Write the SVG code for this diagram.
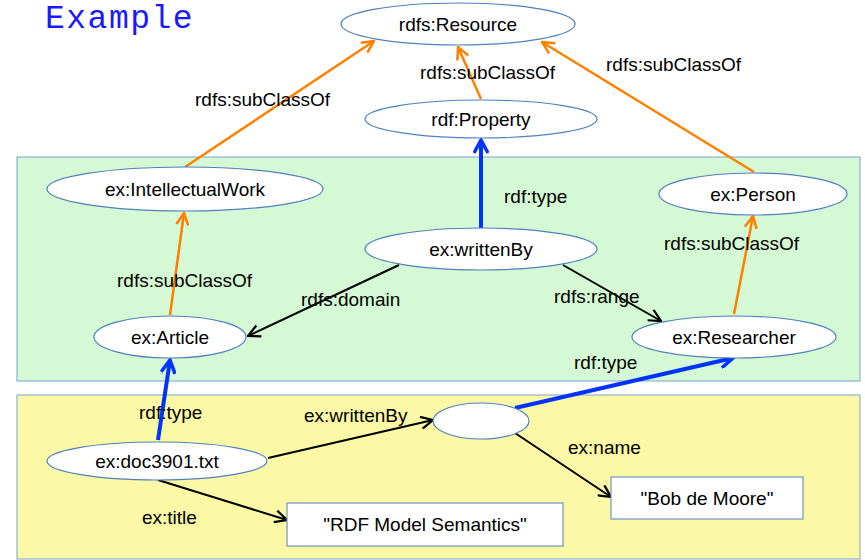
<svg xmlns="http://www.w3.org/2000/svg" width="865" height="560" viewBox="0 0 865 560">
<style>
.node ellipse{fill:#fff;stroke:#4f81bd;stroke-width:1.2}
.node rect{fill:#fff;stroke:#6f94c4;stroke-width:1.2}
text{font-family:"Liberation Sans",Arial,sans-serif;font-size:19px;fill:#000}
.node text{text-anchor:middle}
.or{stroke:#ff7f00;stroke-width:2.5;fill:none}
.bl{stroke:#0033ff;stroke-width:4;fill:none}
.bk{stroke:#000;stroke-width:2;fill:none}
</style>
<defs>
<marker id="ao" viewBox="0 0 14 14" refX="13" refY="7" markerWidth="14" markerHeight="14" markerUnits="userSpaceOnUse" orient="auto"><path d="M1,1 L13,7 L1,13" fill="none" stroke="#ff7f00" stroke-width="2.5"/></marker>
<marker id="ab" viewBox="0 0 16 16" refX="14" refY="8" markerWidth="16" markerHeight="16" markerUnits="userSpaceOnUse" orient="auto"><path d="M1,1 L14,8 L1,15" fill="none" stroke="#0033ff" stroke-width="3.5"/></marker>
<marker id="ak" viewBox="0 0 14 14" refX="13" refY="7" markerWidth="14" markerHeight="14" markerUnits="userSpaceOnUse" orient="auto"><path d="M1,1 L13,7 L1,13" fill="none" stroke="#000" stroke-width="2.2"/></marker>
</defs>
<rect width="865" height="560" fill="#fff"/>
<text x="45" y="28" style="font-family:'Liberation Mono','Courier New',monospace;font-size:33px;letter-spacing:1.5px;fill:#1a1aff">Example</text>
<g id="schema-box"><rect x="17" y="157" width="843" height="224" fill="#d4f9d4" stroke="#7ba3d0" stroke-width="1"/></g>
<g id="data-box"><rect x="17" y="395" width="843" height="164" fill="#fbf8a6" stroke="#7ba3d0" stroke-width="1"/></g>
<g id="connectors">
<line class="or" x1="185" y1="167" x2="374" y2="41" marker-end="url(#ao)"/>
<line class="or" x1="481" y1="99" x2="458" y2="47" marker-end="url(#ao)"/>
<line class="or" x1="754" y1="172" x2="542" y2="42" marker-end="url(#ao)"/>
<line class="bl" x1="481" y1="228" x2="481" y2="140" marker-end="url(#ab)"/>
<line class="or" x1="170" y1="315" x2="184" y2="213" marker-end="url(#ao)"/>
<line class="bk" x1="399" y1="265" x2="248" y2="336" marker-end="url(#ak)"/>
<line class="bk" x1="563" y1="265" x2="661" y2="321" marker-end="url(#ak)"/>
<line class="or" x1="734" y1="314" x2="753" y2="216" marker-end="url(#ao)"/>
<line class="bl" x1="158" y1="440" x2="170" y2="360" marker-end="url(#ab)"/>
<line class="bl" x1="515" y1="408" x2="733" y2="358" marker-end="url(#ab)"/>
<line class="bk" x1="268" y1="458" x2="433" y2="420" marker-end="url(#ak)"/>
<line class="bk" x1="158" y1="480" x2="287" y2="520" marker-end="url(#ak)"/>
<line class="bk" x1="515" y1="433" x2="611" y2="497" marker-end="url(#ak)"/>
<text x="195" y="106">rdfs:subClassOf</text>
<text x="420" y="79">rdfs:subClassOf</text>
<text x="606" y="71">rdfs:subClassOf</text>
<text x="504" y="203">rdf:type</text>
<text x="664" y="250">rdfs:subClassOf</text>
<text x="117" y="287">rdfs:subClassOf</text>
<text x="301" y="306">rdfs:domain</text>
<text x="554" y="303">rdfs:range</text>
<text x="574" y="369">rdf:type</text>
<text x="139" y="419">rdf:type</text>
<text x="304" y="422">ex:writtenBy</text>
<text x="142" y="524">ex:title</text>
<text x="568" y="454">ex:name</text>
</g>
<g id="n-resource" class="node"><ellipse cx="458" cy="24" rx="117" ry="21"/><text x="458" y="31">rdfs:Resource</text></g>
<g id="n-property" class="node"><ellipse cx="481" cy="119" rx="116" ry="19"/><text x="481" y="126">rdf:Property</text></g>
<g id="n-intellectualwork" class="node"><ellipse cx="185" cy="189" rx="138" ry="22"/><text x="185" y="196">ex:IntellectualWork</text></g>
<g id="n-person" class="node"><ellipse cx="753" cy="194" rx="94" ry="21"/><text x="753" y="201">ex:Person</text></g>
<g id="n-writtenby" class="node"><ellipse cx="481" cy="249" rx="116" ry="21"/><text x="481" y="256">ex:writtenBy</text></g>
<g id="n-article" class="node"><ellipse cx="170" cy="337" rx="76" ry="21"/><text x="170" y="344">ex:Article</text></g>
<g id="n-researcher" class="node"><ellipse cx="734" cy="337" rx="102" ry="21"/><text x="734" y="344">ex:Researcher</text></g>
<g id="n-doc" class="node"><ellipse cx="157" cy="461" rx="110" ry="19"/><text x="157" y="468">ex:doc3901.txt</text></g>
<g id="n-blank" class="node"><ellipse cx="481" cy="421" rx="48" ry="18"/></g>
<g id="n-title" class="node"><rect x="287" y="503" width="276" height="43"/><text x="425" y="531">"RDF Model Semantics"</text></g>
<g id="n-name" class="node"><rect x="611" y="477" width="192" height="42"/><text x="707" y="505">"Bob de Moore"</text></g>
</svg>
